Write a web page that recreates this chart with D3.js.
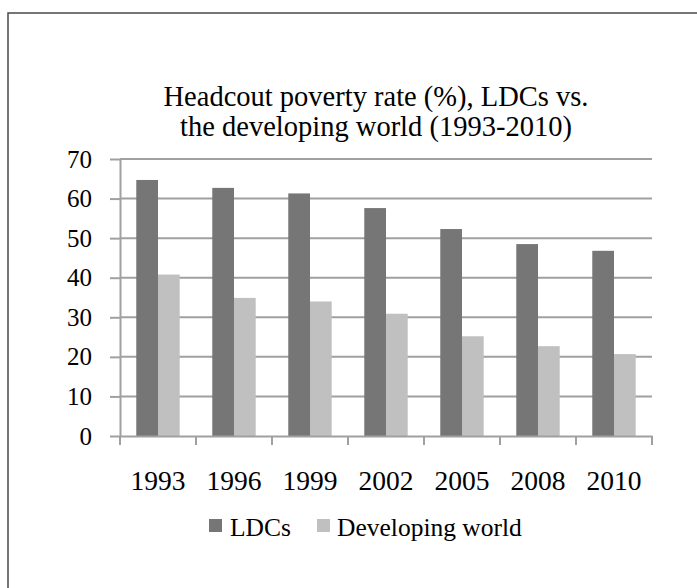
<!DOCTYPE html>
<html>
<head>
<meta charset="utf-8">
<script src="https://cdn.jsdelivr.net/npm/d3@7/dist/d3.min.js"></script>
<style>
  html, body { margin: 0; padding: 0; background: #fff; }
  svg { display: block; }
  text { font-family: "Liberation Serif", "DejaVu Serif", serif; fill: #000; }
</style>
</head>
<body>
<script>
// Headcount poverty rate, LDCs vs. developing world
const years = ["1993", "1996", "1999", "2002", "2005", "2008", "2010"];
const ldcs = [64.7, 62.7, 61.3, 57.6, 52.3, 48.5, 46.8];
const developing = [40.8, 34.9, 34.0, 30.9, 25.2, 22.7, 20.7];
const seriesNames = ["LDCs", "Developing world"];
const seriesColors = ["#767676", "#c0c0c0"];
const yTicks = [0, 10, 20, 30, 40, 50, 60, 70];
const titleLines = ["Headcout poverty rate (%), LDCs vs.", "the developing world (1993-2010)"];

const W = 697, H = 588;
const plot = { left: 120, right: 652, top: 159, bottom: 436 };
const serif = "'Liberation Serif', 'DejaVu Serif', serif";

const svg = d3.select("body").append("svg")
  .attr("width", W).attr("height", H);

// outer chart frame
svg.append("rect")
  .attr("x", 8).attr("y", 13)
  .attr("width", W + 20).attr("height", H + 20)
  .attr("fill", "none").attr("stroke", "#4a4a4a").attr("stroke-width", 1.5);

const x = d3.scaleBand().domain(years).range([plot.left, plot.right]);
const x1 = d3.scaleBand().domain(seriesNames)
  .range([0, x.bandwidth()]).paddingOuter(0.75).paddingInner(0);
const y = d3.scaleLinear().domain([0, 70]).range([plot.bottom, plot.top]);

// horizontal gridlines
svg.append("g").selectAll("line").data(yTicks.filter(d => d > 0)).join("line")
  .attr("x1", plot.left).attr("x2", plot.right)
  .attr("y1", d => y(d)).attr("y2", d => y(d))
  .attr("stroke", "#a0a0a0").attr("stroke-width", 2);

// bars
const rows = years.map((yr, i) => ({ year: yr, vals: [ldcs[i], developing[i]] }));
const groups = svg.append("g").selectAll("g").data(rows).join("g")
  .attr("transform", d => `translate(${x(d.year)},0)`);
groups.selectAll("rect").data(d => d.vals.map((v, j) => ({ v, s: seriesNames[j], c: seriesColors[j] })))
  .join("rect")
  .attr("x", d => x1(d.s))
  .attr("width", x1.bandwidth())
  .attr("y", d => y(d.v))
  .attr("height", d => y(0) - y(d.v))
  .attr("fill", d => d.c);

// y axis
const yAxis = svg.append("g")
  .attr("transform", `translate(${plot.left},0)`)
  .call(d3.axisLeft(y).tickValues(yTicks).tickSize(10).tickPadding(18).tickSizeOuter(0));
yAxis.select(".domain").attr("stroke", "#a0a0a0").attr("stroke-width", 2);
yAxis.selectAll(".tick line").attr("stroke", "#a0a0a0").attr("stroke-width", 2);
yAxis.selectAll("text").attr("font-size", 25).attr("fill", "#000")
  .style("font-family", serif);

// x axis
const xAxis = svg.append("g")
  .attr("transform", `translate(0,${plot.bottom})`)
  .call(d3.axisBottom(x).tickSize(0).tickPadding(34).tickSizeOuter(0));
xAxis.select(".domain").attr("stroke", "#a0a0a0").attr("stroke-width", 2);
xAxis.selectAll("text").attr("font-size", 27.5).attr("fill", "#000")
  .style("font-family", serif);
// category boundary ticks
svg.append("g").selectAll("line")
  .data(years.map(d => x(d)).concat([x(years[years.length - 1]) + x.bandwidth()]))
  .join("line")
  .attr("x1", d => d).attr("x2", d => d)
  .attr("y1", plot.bottom).attr("y2", plot.bottom + 9)
  .attr("stroke", "#a0a0a0").attr("stroke-width", 2);

// title
svg.append("g").selectAll("text").data(titleLines).join("text")
  .attr("x", 376).attr("y", (d, i) => 106 + i * 30)
  .attr("text-anchor", "middle").attr("font-size", 28.5)
  .text(d => d);

// legend
const legend = svg.append("g");
const legendItems = [
  { name: seriesNames[0], color: seriesColors[0], sx: 209, tx: 230 },
  { name: seriesNames[1], color: seriesColors[1], sx: 317, tx: 337 }
];
legend.selectAll("rect").data(legendItems).join("rect")
  .attr("x", d => d.sx).attr("y", 519).attr("width", 13).attr("height", 13)
  .attr("fill", d => d.color);
legend.selectAll("text").data(legendItems).join("text")
  .attr("x", d => d.tx).attr("y", 536).attr("font-size", 25.5)
  .text(d => d.name);
</script>
</body>
</html>
